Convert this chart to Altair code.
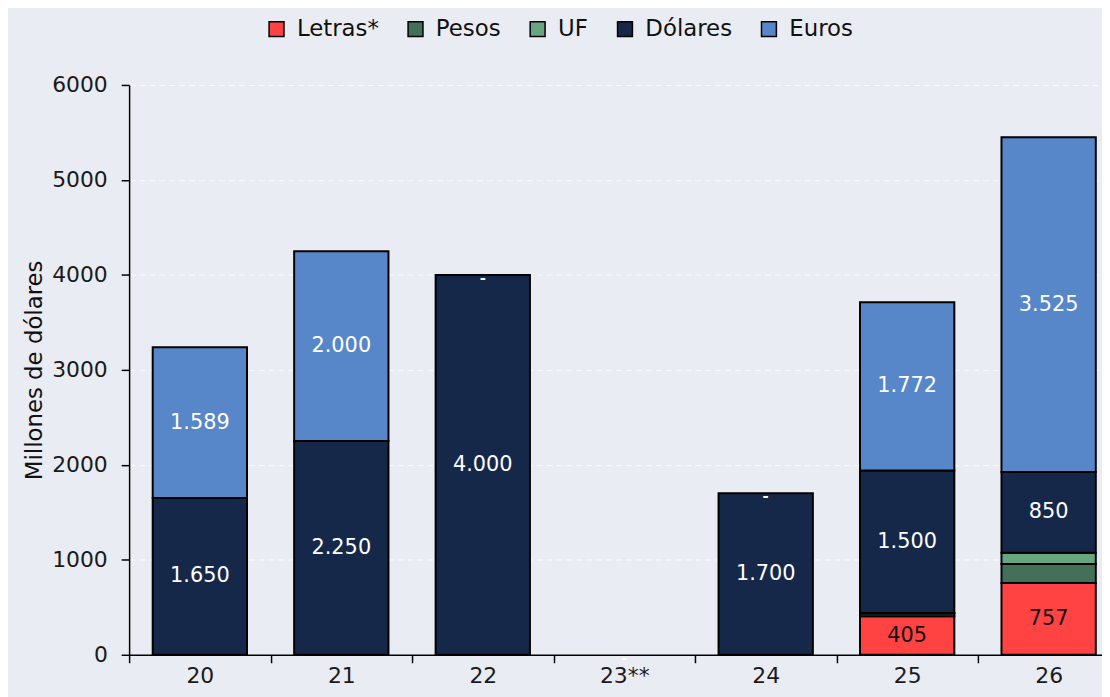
import altair as alt
import pandas as pd

years = ["20", "21", "22", "23**", "24", "25", "26"]
series = ["Letras*", "Pesos", "UF", "Dólares", "Euros"]
colors = ["#ff4343", "#44705a", "#67a680", "#16284a", "#5786c9"]

letras = [0, 0, 0, 0, 0, 405, 757]
pesos = [0, 0, 0, 0, 0, 30, 200]
uf = [0, 0, 0, 0, 0, 5, 118]
dolares = [1650, 2250, 4000, 0, 1700, 1500, 850]
euros = [1589, 2000, 0, 0, 0, 1772, 3525]

values = {"Letras*": letras, "Pesos": pesos, "UF": uf, "Dólares": dolares, "Euros": euros}


def fmt(v):
    return f"{v:,}".replace(",", ".")


rows = []
for si, s in enumerate(series):
    for yi, y in enumerate(years):
        v = values[s][yi]
        if s in ("Letras*", "Dólares", "Euros") and v > 0:
            lab = fmt(v)
        elif s == "Euros" and v == 0:
            lab = "-"
        else:
            lab = ""
        rows.append({
            "year": y, "serie": s, "value": v, "order": si, "label": lab,
            "tc": "#111111" if s == "Letras*" else "#ffffff",
        })
df = pd.DataFrame(rows)

FONT = "DejaVu Sans"
xscale = alt.Scale(domain=years, range=[0, 997.5], paddingInner=0, paddingOuter=0)
yscale = alt.Scale(domain=[0, 6000], nice=False)

base = alt.Chart(df).transform_stack(
    stack="value", groupby=["year"], as_=["v0", "v1"],
    sort=[alt.SortField("order", order="ascending")],
).transform_calculate(mid="(datum.v0 + datum.v1) / 2")

xenc = alt.X(
    "year:N", sort=years, title=None, scale=xscale,
    axis=alt.Axis(labelAngle=0, tickBand="extent", labelFontSize=22, labelColor="#1a1a1a",
                  labelFont=FONT, tickSize=8, tickColor="black", tickWidth=1.5,
                  domainColor="black", domainWidth=1.5, labelPadding=3, grid=False),
)

bars = base.transform_filter("datum.value > 0").mark_bar(
    width=95, stroke="black", strokeWidth=2
).encode(
    x=xenc,
    y=alt.Y("v0:Q", title="Millones de dólares", scale=yscale,
            axis=alt.Axis(values=[0, 1000, 2000, 3000, 4000, 5000, 6000], format="d",
                          labelFontSize=22, labelColor="#1a1a1a", labelFont=FONT,
                          tickSize=8, tickColor="black", tickWidth=1.5,
                          domainColor="black", domainWidth=1.5, labelPadding=14,
                          titleFont=FONT, titleFontSize=23, titleFontWeight="normal",
                          titleColor="#111111", titlePadding=5,
                          grid=True, gridColor="#ffffff", gridOpacity=0.8, gridDash=[6, 4],
                          gridWidth=1)),
    y2="v1:Q",
    color=alt.Color("serie:N", scale=alt.Scale(domain=series, range=colors),
                    legend=alt.Legend(title=None, orient="none", direction="horizontal",
                                      legendX=137, legendY=-68, labelFont=FONT,
                                      labelFontSize=23, labelColor="#111111",
                                      symbolType="square", symbolSize=225,
                                      symbolStrokeColor="black", symbolStrokeWidth=1.5,
                                      symbolOpacity=1, columnPadding=25, labelOffset=9)),
    order=alt.Order("order:Q"),
)

texts = base.transform_filter("datum.label != '' && datum.label != '-'").mark_text(
    font=FONT, fontSize=21, baseline="middle", align="center"
).encode(
    x=alt.X("year:N", sort=years, scale=xscale),
    y=alt.Y("mid:Q", scale=yscale),
    text="label:N",
    color=alt.Color("tc:N", scale=None),
)

dashes = base.transform_filter("datum.label == '-'").mark_text(
    font=FONT, fontSize=15, fontWeight="bold", baseline="middle", align="center", dy=3
).encode(
    x=alt.X("year:N", sort=years, scale=xscale),
    y=alt.Y("mid:Q", scale=yscale),
    text="label:N",
    color=alt.Color("tc:N", scale=None),
)

chart = alt.layer(bars, texts, dashes).resolve_scale(color="independent").properties(
    width=980, height=574,
    autosize=alt.AutoSizeParams(type="none"),
    padding={"left": 122, "top": 75, "right": 0, "bottom": 40},
    background="#e9ecf2",
).configure_view(stroke=None)

chart.save("out.html", embed_options={"renderer": "svg", "actions": False})
